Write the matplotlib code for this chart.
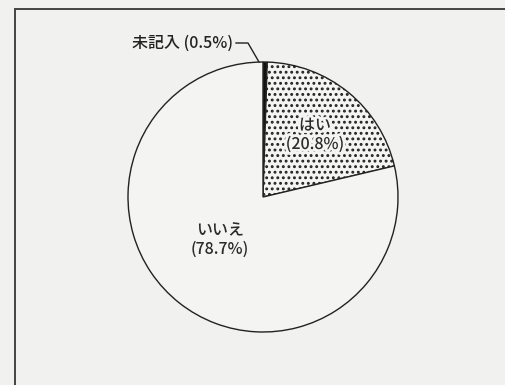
import matplotlib
matplotlib.use("Agg")
import matplotlib.pyplot as plt
import matplotlib.patheffects as pe
from matplotlib.patches import Rectangle

plt.rcParams['font.family'] = ['Noto Sans CJK JP', 'DejaVu Sans']
plt.rcParams['hatch.linewidth'] = 1.3

# データ（時計回り、12時から）
kategorier = ['未記入', 'はい', 'いいえ']
andelar = [0.5, 20.8, 78.7]
etiketter = ['未記入 (0.5%)', 'はい\n(20.8%)', 'いいえ\n(78.7%)']

fig = plt.figure(figsize=(5.05, 3.85), dpi=100)
fig.patch.set_facecolor('#f1f1ef')
ax = fig.add_axes([0, 0, 1, 1])
ax.set_xlim(0, 505)
ax.set_ylim(0, 385)
ax.set_aspect('equal')
ax.axis('off')

# Ram runt diagrammet
ax.add_patch(Rectangle((15, -20), 520, 396, fill=False, edgecolor='#444444', lw=1.4))

mitt = (263, 188)
radie = 135
wedges, _ = ax.pie(andelar, startangle=90, counterclock=False, center=mitt, radius=radie,
                   colors=['#111111', '#f4f4f2', '#f4f4f2'],
                   wedgeprops=dict(edgecolor='#222222', linewidth=1.0))
wedges[1].set_hatch('...')
ax.set_xlim(0, 505)
ax.set_ylim(0, 385)

# Etiketter
ax.text(315, 250, etiketter[1], ha='center', va='center', fontsize=11.5, color='#2a2a2a',
        linespacing=1.15, fontweight='medium',
        path_effects=[pe.withStroke(linewidth=4, foreground='#f4f4f2')])
ax.text(220, 145, etiketter[2], ha='center', va='center', fontsize=11.5, color='#2a2a2a',
        linespacing=1.15, fontweight='medium')
ax.text(233, 342, etiketter[0], ha='right', va='center', fontsize=11.5, color='#222222',
        fontweight='medium')
ax.plot([236, 248, 259], [342, 342, 323], color='#222222', lw=1.0)

fig.savefig('out.png', dpi=100, facecolor=fig.get_facecolor())
